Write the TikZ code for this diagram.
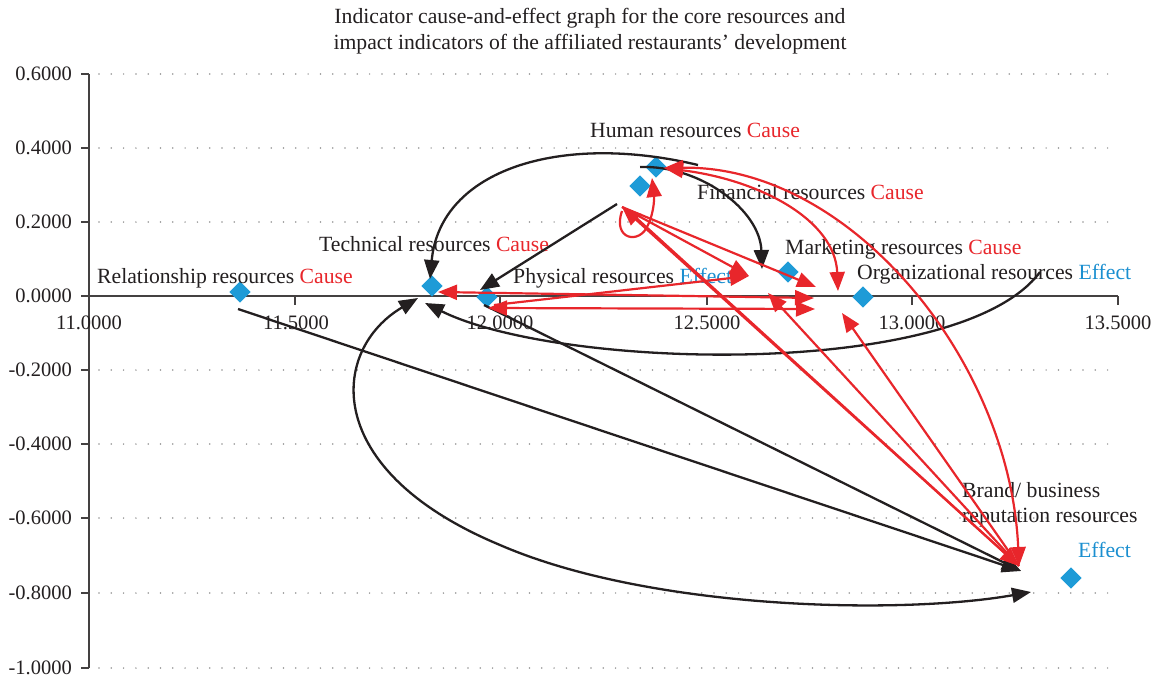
\documentclass[tikz,border=0pt]{standalone}
\usepackage{fontspec}
\setmainfont{Liberation Serif}
\usetikzlibrary{arrows.meta}
\definecolor{cred}{HTML}{E8262B}
\definecolor{cblue}{HTML}{1B8FD0}
\definecolor{cdia}{HTML}{1E9BD7}
\definecolor{cblk}{HTML}{231F20}
\begin{document}
\begin{tikzpicture}[x=1pt,y=-1pt,
  font=\fontsize{21.7}{26}\selectfont,
  >={Triangle[length=19pt,width=15pt]},
  marker/.style={fill=cdia, draw=none, minimum size=15pt, inner sep=0pt, rotate=45, shape=rectangle},
  lab/.style={anchor=base west, inner sep=0pt, text=cblk},
  num/.style={inner sep=0pt, text=cblk, font=\fontsize{20.5}{24}\selectfont},
  grid/.style={draw=gray!85, line width=1.7pt, line cap=round, dash pattern=on 0pt off 12.3pt},
  axisline/.style={draw=cblk!85, line width=1.4pt},
  barr/.style={draw=cblk, line width=2.3pt},
  rarr/.style={draw=cred, line width=2.2pt},
]
\useasboundingbox (0,0) rectangle (1156,680);
% title
\node[align=center, text=cblk, inner sep=0pt] (title) at (590,31)
  {Indicator cause-and-effect graph for the core resources and\\impact indicators of the affiliated restaurants' development};
% gridlines
\foreach \yy in {74,148,222,370,444,518,593,668}
  \draw[grid] (99,\yy) -- (1118,\yy);
% axes
\draw[axisline] (89,74) -- (89,668);
\draw[axisline] (89,296) -- (1118,296);
\foreach \yy in {74,148,222,296,370,444,518,593,668}
  \draw[axisline] (81,\yy) -- (89,\yy);
\foreach \xx in {89,295,500,707,912,1118}
  \draw[axisline] (\xx,296) -- (\xx,305);
% y labels
\foreach \yy/\t in {74/0.6000,148/0.4000,222/0.2000,296/0.0000,370/-0.2000,444/-0.4000,518/-0.6000,593/-0.8000,668/-1.0000}
  \node[num, anchor=east] at (72,\yy) {\t};
% x labels
\foreach \xx/\t in {89/11.0000,296/11.5000,500/12.0000,707/12.5000,912/13.0000,1118/13.5000}
  \node[num, anchor=center] at (\xx,323) {\t};
% markers
\node[marker] (rel) at (240,292) {};
\node[marker] (tec) at (432,286) {};
\node[marker] (phy) at (487,297) {};
\node[marker] (hum) at (656,167) {};
\node[marker] (fin) at (640,186) {};
\node[marker] (mkt) at (788,272) {};
\node[marker] (org) at (863,297) {};
\node[marker] (brd) at (1071,578) {};
% labels
\node[lab] (lrel) at (97,283) {Relationship resources \textcolor{cred}{Cause}};
\node[lab] (ltec) at (319,251) {Technical resources \textcolor{cred}{Cause}};
\node[lab] (lphy) at (513,283) {Physical resources \textcolor{cblue}{Effect}};
\node[lab] (lhum) at (590,137) {Human resources \textcolor{cred}{Cause}};
\node[lab] (lfin) at (697,199) {Financial resources \textcolor{cred}{Cause}};
\node[lab] (lmkt) at (785,254) {Marketing resources \textcolor{cred}{Cause}};
\node[lab] (lorg) at (857,279) {Organizational resources \textcolor{cblue}{Effect}};
\node[lab] (lbrd1) at (962,497) {Brand/ business};
\node[lab] (lbrd2) at (962,522) {reputation resources};
\node[lab, text=cblue] (lbrd3) at (1078,557) {Effect};
% connector end points
\coordinate (hA) at (698,165);
\coordinate (tecT) at (430,279);
\coordinate (fA) at (640,167);
\coordinate (mktT) at (762,269);
\coordinate (fB) at (617,204);
\coordinate (phyT) at (480,290);
\coordinate (relB) at (238,309);
\coordinate (brdT) at (1021,571);
\coordinate (phyB) at (484,305);
\coordinate (tecB) at (418,298);
\coordinate (brdB) at (1031,592);
\coordinate (orgA) at (1040,272);
\coordinate (tecC) at (425,303);
\coordinate (fR) at (622,207);
\coordinate (fR2) at (632,214);
\coordinate (fL) at (622,211);
\coordinate (humL) at (652,178);
\coordinate (mktL) at (749,276);
\coordinate (orgL) at (816,287);
\coordinate (brdR) at (1019,566);
\coordinate (mktB) at (768,293);
\coordinate (orgB) at (842,313);
\coordinate (humR) at (664,168);
\coordinate (orgT) at (838,291);
\coordinate (tecR) at (438,292);
\coordinate (rtR) at (814,298);
\coordinate (phyR) at (488,308);
\coordinate (rpR) at (815,309);
\coordinate (phyR2) at (494,305);
% black connectors
\draw[barr,->] (hA) .. controls (560,132) and (440,170) .. (tecT);
\draw[barr,->] (fA) .. controls (700,165) and (760,210) .. (mktT);
\draw[barr,->] (fB) -- (phyT);
\draw[barr,->] (relB) -- (brdT);
\draw[barr,->] (phyB) -- (brdT);
\draw[barr,<->] (tecB) .. controls (330,350) and (320,470) .. (500,545) .. controls (650,610) and (900,615) .. (brdB);
\draw[barr,->] (orgA) .. controls (960,380) and (560,370) .. (tecC);
% red connectors
\draw[rarr,->] (fL) .. controls (612,240) and (640,245) .. (648,225) .. controls (655,210) and (654,195) .. (humL);
\draw[rarr,->] (fR) -- (mktL);
\draw[rarr,->] (phyR2) -- (mktL);
\draw[rarr,->] (fR) -- (orgL);
\draw[rarr,<->] (brdR) -- (fR);
\draw[rarr,->] (fR2) -- (brdR);
\draw[rarr,->] (brdR) -- (mktB);
\draw[rarr,->] (brdR) -- (orgB);
\draw[rarr,<->] (humR) .. controls (760,180) and (835,220) .. (orgT);
\draw[rarr,<->] (humR) .. controls (850,165) and (1010,360) .. (brdR);
\draw[rarr,<->] (rtR) -- (tecR);
\draw[rarr,<->] (rpR) -- (phyR);
\end{tikzpicture}
\end{document}
